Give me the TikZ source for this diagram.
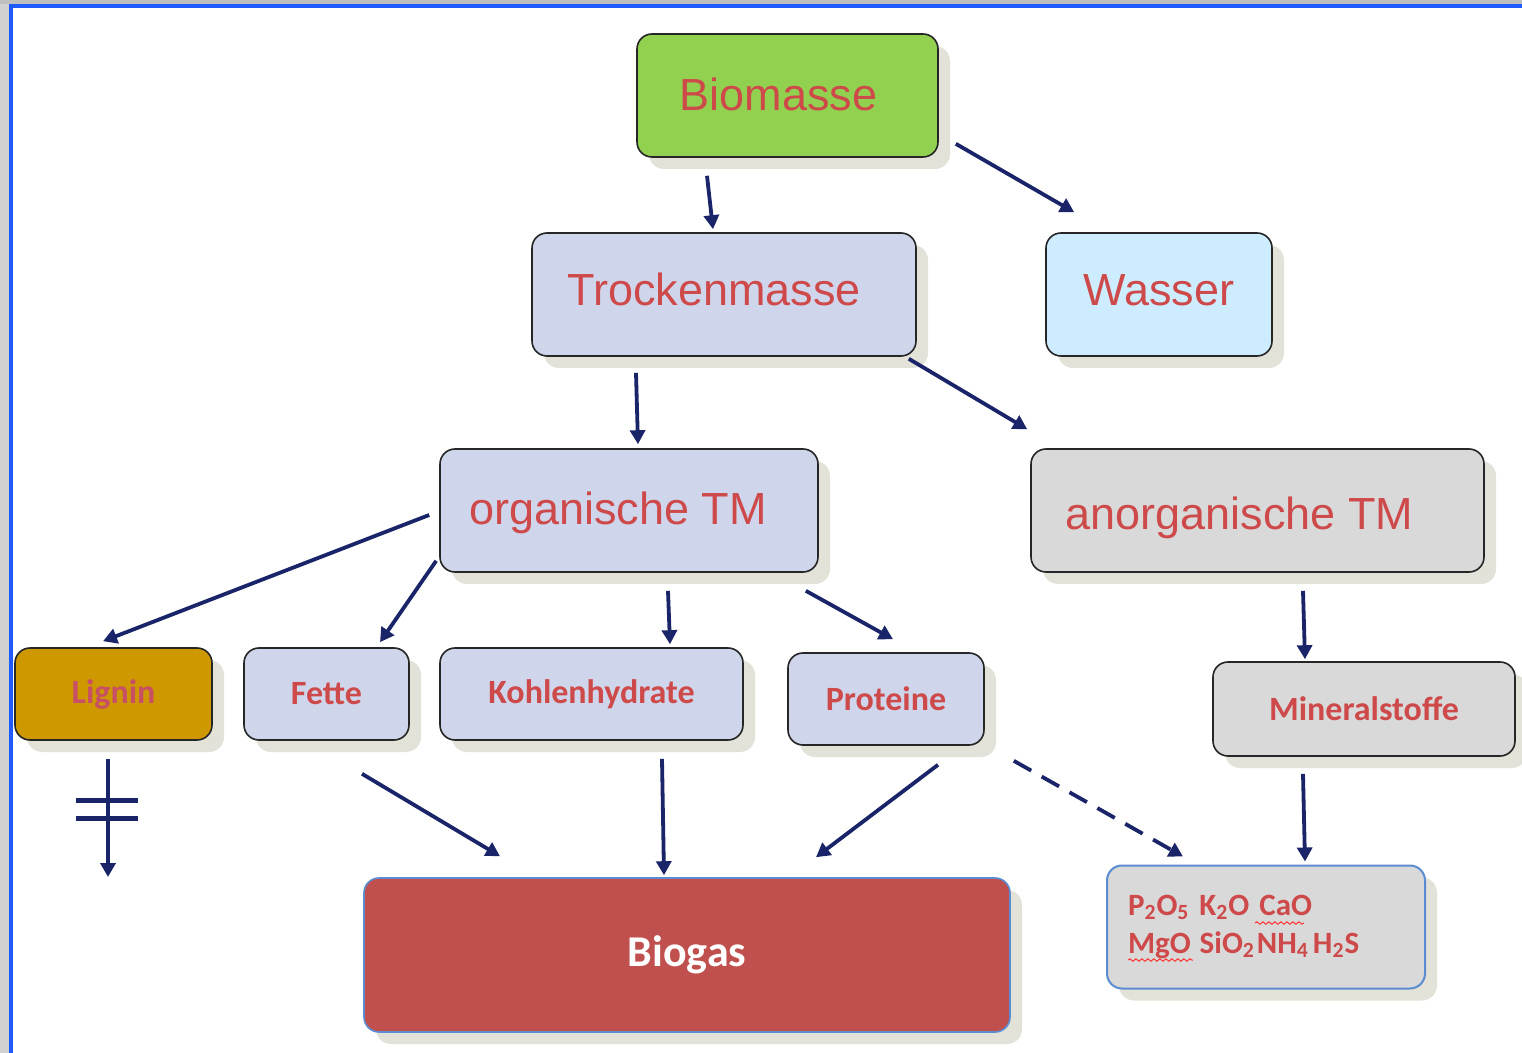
\documentclass[tikz,border=0pt]{standalone}
\usepackage{fontspec}
\setmainfont{Liberation Sans}
\newfontfamily\carlitofont{Carlito}
\usetikzlibrary{arrows.meta,shadows,decorations.pathmorphing}
\definecolor{txtred}{RGB}{206,74,74}
\definecolor{arrc}{RGB}{26,36,104}
\definecolor{bgreen}{RGB}{146,208,80}
\definecolor{blav}{RGB}{207,213,234}
\definecolor{bblue}{RGB}{205,236,255}
\definecolor{bgrey}{RGB}{217,217,217}
\definecolor{bgold}{RGB}{206,153,0}
\definecolor{bred}{RGB}{192,80,77}
\definecolor{edgeblue}{RGB}{91,140,210}
\definecolor{frameblue}{RGB}{30,90,255}
\definecolor{shadowc}{RGB}{214,214,200}
\definecolor{ligtxt}{RGB}{200,80,100}
\newcommand\boxtxt[3]{\hspace*{#1}\raisebox{#2}[16pt][5pt]{#3}}
\tikzset{
  box/.style={rectangle, rounded corners=7.5pt, draw=black!85, line width=0.8pt,
    inner sep=0pt, text=txtred,
    drop shadow={shadow xshift=6pt, shadow yshift=-6pt, fill=shadowc, opacity=0.7}},
  bigtxt/.style={font=\fontsize{22.5}{26}\selectfont},
  smalltxt/.style={font=\carlitofont\bfseries\fontsize{17}{20}\selectfont},
  arr/.style={draw=arrc, line width=1.9pt, -{Triangle[length=7pt,width=7.5pt]}},
  bar/.style={draw=arrc, line width=2.4pt},
  squig/.style={red!80, line width=0.5pt, decorate, decoration={snake, amplitude=0.6pt, segment length=3pt}},
}
\begin{document}
\begin{tikzpicture}[x=0.5pt,y=-0.5pt]
\useasboundingbox (0,0) rectangle (1522,1053);
\fill[white] (0,0) rectangle (1522,1053);
\fill[black!18] (0,0) rectangle (9,1053);
\fill[black!25] (0,0) rectangle (1522,4);
\draw[frameblue, line width=1.6pt] (11,1053) -- (11,6) -- (1522,6);

% nodes
\node[box, bigtxt, fill=bgreen, minimum width=150.5pt, minimum height=61.5pt] (bio) at (787.5,95.5) {\boxtxt{-9pt}{-2pt}{Biomasse}};
\node[box, bigtxt, fill=blav, minimum width=192pt, minimum height=61.5pt] (tro) at (724,294.5) {\boxtxt{-10pt}{0pt}{Trockenmasse}};
\node[box, bigtxt, fill=bblue, minimum width=113pt, minimum height=61.5pt] (was) at (1159,294.5) {\boxtxt{0pt}{0pt}{Wasser}};
\node[box, bigtxt, fill=blav, minimum width=189pt, minimum height=61.5pt] (org) at (629,510.5) {\boxtxt{-11pt}{-1.75pt}{organische TM}};
\node[box, bigtxt, fill=bgrey, minimum width=226.5pt, minimum height=61.5pt] (ano) at (1257.5,510.5) {\boxtxt{-18pt}{-4.25pt}{anorganische TM}};
\node[box, smalltxt, fill=bgold, minimum width=98.5pt, minimum height=46pt, text=ligtxt] (lig) at (113.5,694) {Lignin};
\node[box, smalltxt, fill=blav, minimum width=82.5pt, minimum height=46pt] (fet) at (326.5,694) {Fette};
\node[box, smalltxt, fill=blav, minimum width=151.5pt, minimum height=46pt] (koh) at (591.5,694) {Kohlenhydrate};
\node[box, smalltxt, fill=blav, minimum width=98pt, minimum height=46pt] (pro) at (886,699) {Proteine};
\node[box, smalltxt, fill=bgrey, minimum width=151pt, minimum height=47pt] (min) at (1364,709) {Mineralstoffe};
\node[box, font=\carlitofont\bfseries\fontsize{22}{26}\selectfont, fill=bred, draw=edgeblue, text=white,
      minimum width=323pt, minimum height=77pt] (bgs) at (687,955) {Biogas};
\node[box, fill=bgrey, draw=edgeblue, line width=1pt, minimum width=159pt, minimum height=61.5pt,
      text width=138pt, align=left, font=\carlitofont\bfseries\fontsize{15.5}{19}\selectfont] (mox) at (1266,927)
  {P\textsubscript{2}O\textsubscript{5}\hspace{5pt}K\textsubscript{2}O\hspace{5pt}CaO\\
   MgO\hspace{4.5pt}SiO\textsubscript{2}\hspace{1pt}NH\textsubscript{4}\hspace{2pt}H\textsubscript{2}S};

% spell-check squiggles
\draw[squig] ([shift={(-11,-4)}]mox.center) -- ([shift={(38,-4)}]mox.center);
\draw[squig] ([shift={(-138,33)}]mox.center) -- ([shift={(-73,33)}]mox.center);

% connectors
\draw[arr] ([shift={(-80.5,18)}]bio.south) -- ([shift={(-11,-3)}]tro.north);
\draw[arr] ([shift={(17,-14)}]bio.south east) -- ([shift={(29,-20)}]was.north west);
\draw[arr] ([shift={(-88,16)}]tro.south) -- ([shift={(9,-4)}]org.north);
\draw[arr] ([shift={(-8,2)}]tro.south east) -- ([shift={(-3,-19)}]ano.north west);
\draw[arr] ([shift={(-10,4.5)}]org.west) -- ([shift={(-10.5,-6)}]lig.north);
\draw[arr] ([shift={(-3,-12)}]org.south west) -- ([shift={(53.5,-5)}]fet.north);
\draw[arr] ([shift={(39,18)}]org.south) -- ([shift={(78.5,-3)}]koh.north);
\draw[arr] ([shift={(-13,18)}]org.south east) -- ([shift={(7,-13)}]pro.north);
\draw[arr] ([shift={(45.5,18)}]ano.south) -- ([shift={(-59,-2)}]min.north);

\coordinate (ligend) at (108,877);
\draw[arr] ([shift={(-5.5,18)}]lig.south) -- (ligend);
\draw[bar] ([shift={(-38,60)}]lig.south) -- ([shift={(24,60)}]lig.south);
\draw[bar] ([shift={(-38,78)}]lig.south) -- ([shift={(24,78)}]lig.south);

\draw[arr] ([shift={(35.5,33)}]fet.south) -- ([shift={(-187,-21)}]bgs.north);
\draw[arr] ([shift={(70.5,18)}]koh.south) -- ([shift={(-23,-2)}]bgs.north);
\draw[arr] ([shift={(52,19)}]pro.south) -- ([shift={(129,-20)}]bgs.north);
\draw[arr, dash pattern=on 10pt off 6pt] ([shift={(29,15)}]pro.south east) -- ([shift={(-83,-8)}]mox.north);
\draw[arr] ([shift={(-61,17)}]min.south) -- ([shift={(39,-3)}]mox.north);
\end{tikzpicture}
\end{document}
